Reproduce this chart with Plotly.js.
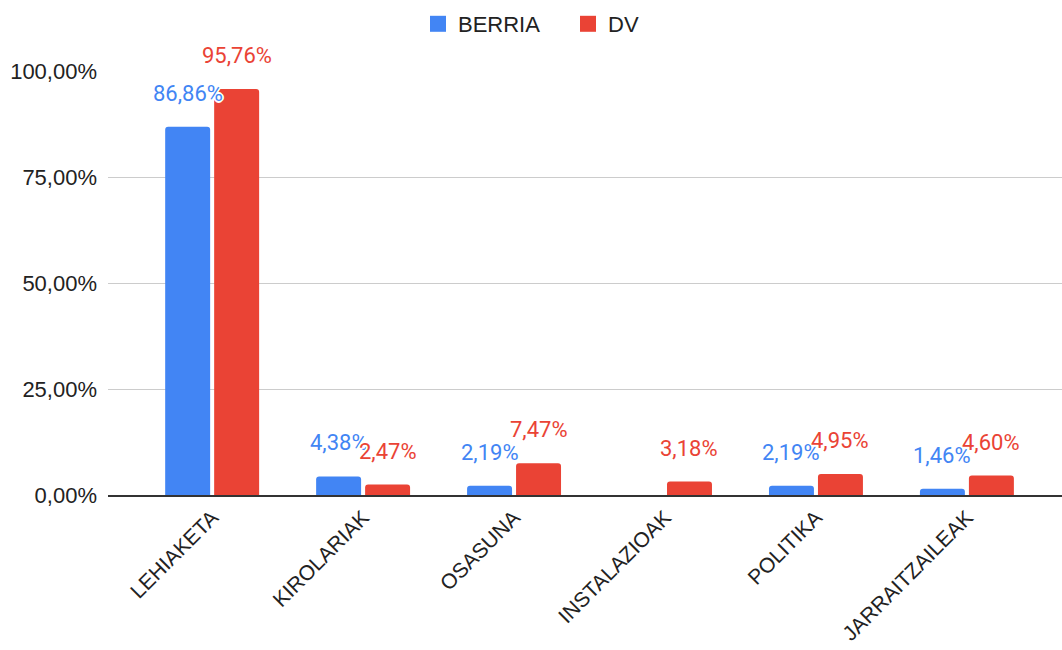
<!DOCTYPE html>
<html>
<head>
<meta charset="utf-8">
<script src="https://cdn.plot.ly/plotly-3.0.1.min.js"></script>
<style>html,body{margin:0;padding:0;background:#fff;}#chart{width:1062px;height:650px;}</style>
</head>
<body>
<div id="chart"></div>
<script>
const categories = ["LEHIAKETA", "KIROLARIAK", "OSASUNA", "INSTALAZIOAK", "POLITIKA", "JARRAITZAILEAK"];
const berria = [86.86, 4.38, 2.19, null, 2.19, 1.46];
const dv = [95.76, 2.47, 7.47, 3.18, 4.95, 4.60];
const seriesNames = ["BERRIA", "DV"];
const seriesColors = ["#4285F4", "#EA4335"];
const yTicks = [0, 25, 50, 75, 100];

const W = 1062, H = 650;
const margin = {l: 108, r: 0, t: 71, b: 155};
const xRange = [-0.69, 5.63];
const bargap = 0.351, bargroupgap = 0.082;
const axisFont = '"Liberation Sans", Arial, sans-serif';

const fmt = v => v.toFixed(2).replace('.', ',') + '%';

const traces = [berria, dv].map((vals, i) => ({
  type: 'bar',
  name: seriesNames[i],
  x: categories,
  y: vals,
  marker: {color: seriesColors[i], cornerradius: 3},
  showlegend: false,
  hoverinfo: 'skip'
}));
// legend entries (larger swatches)
seriesNames.forEach((n, i) => traces.push({
  type: 'scatter', mode: 'markers', name: n,
  x: [null], y: [null],
  marker: {symbol: 'square', size: 16, color: seriesColors[i]},
  showlegend: true, hoverinfo: 'skip'
}));

const pxPerUnit = (W - margin.l - margin.r) / (xRange[1] - xRange[0]);
const slot = (1 - bargap) / 2 * pxPerUnit;
const offsets = [-slot / 2, slot / 2];

const annotations = [];
[berria, dv].forEach((vals, i) => {
  vals.forEach((v, j) => {
    if (v === null) return;
    annotations.push({
      x: categories[j], y: v, xref: 'x', yref: 'y',
      text: fmt(v), showarrow: false,
      xanchor: 'center', yanchor: 'bottom',
      xshift: offsets[i], yshift: 19,
      font: {family: 'Roboto, Arial, sans-serif', size: 22, color: seriesColors[i],
             shadow: '-1px -1px 0 #fff, 1px -1px 0 #fff, -1px 1px 0 #fff, 1px 1px 0 #fff, 0 2px 0 #fff, 0 -2px 0 #fff, 2px 0 0 #fff, -2px 0 0 #fff'}
    });
  });
});

const layout = {
  width: W, height: H,
  margin: margin,
  paper_bgcolor: '#fff', plot_bgcolor: '#fff',
  barmode: 'group',
  bargap: bargap,
  bargroupgap: bargroupgap,
  font: {family: axisFont, size: 22, color: '#222'},
  showlegend: true,
  legend: {orientation: 'h', x: 0.5 + 37 / 1062, xanchor: 'center', xref: 'container',
           y: 1 - 24 / 650, yref: 'container', yanchor: 'middle',
           entrywidth: 105,
           font: {family: axisFont, size: 22, color: '#222'},
           itemclick: false},
  xaxis: {
    type: 'category', range: xRange,
    tickangle: -45, showgrid: false, ticks: '',
    showline: true, linecolor: '#333', linewidth: 2,
    tickfont: {family: axisFont, size: 21, color: '#222'},
    fixedrange: true
  },
  yaxis: {
    range: [0, 100], tickmode: 'array', tickvals: yTicks, ticktext: yTicks.map(fmt),
    showgrid: true, gridcolor: '#cccccc', gridwidth: 1,
    zeroline: false, showline: false, ticks: '',
    ticklabelstandoff: 10,
    tickfont: {family: axisFont, size: 22, color: '#222'},
    fixedrange: true
  },
  annotations: annotations
};

Plotly.newPlot('chart', traces, layout, {displayModeBar: false, staticPlot: true});
</script>
</body>
</html>
